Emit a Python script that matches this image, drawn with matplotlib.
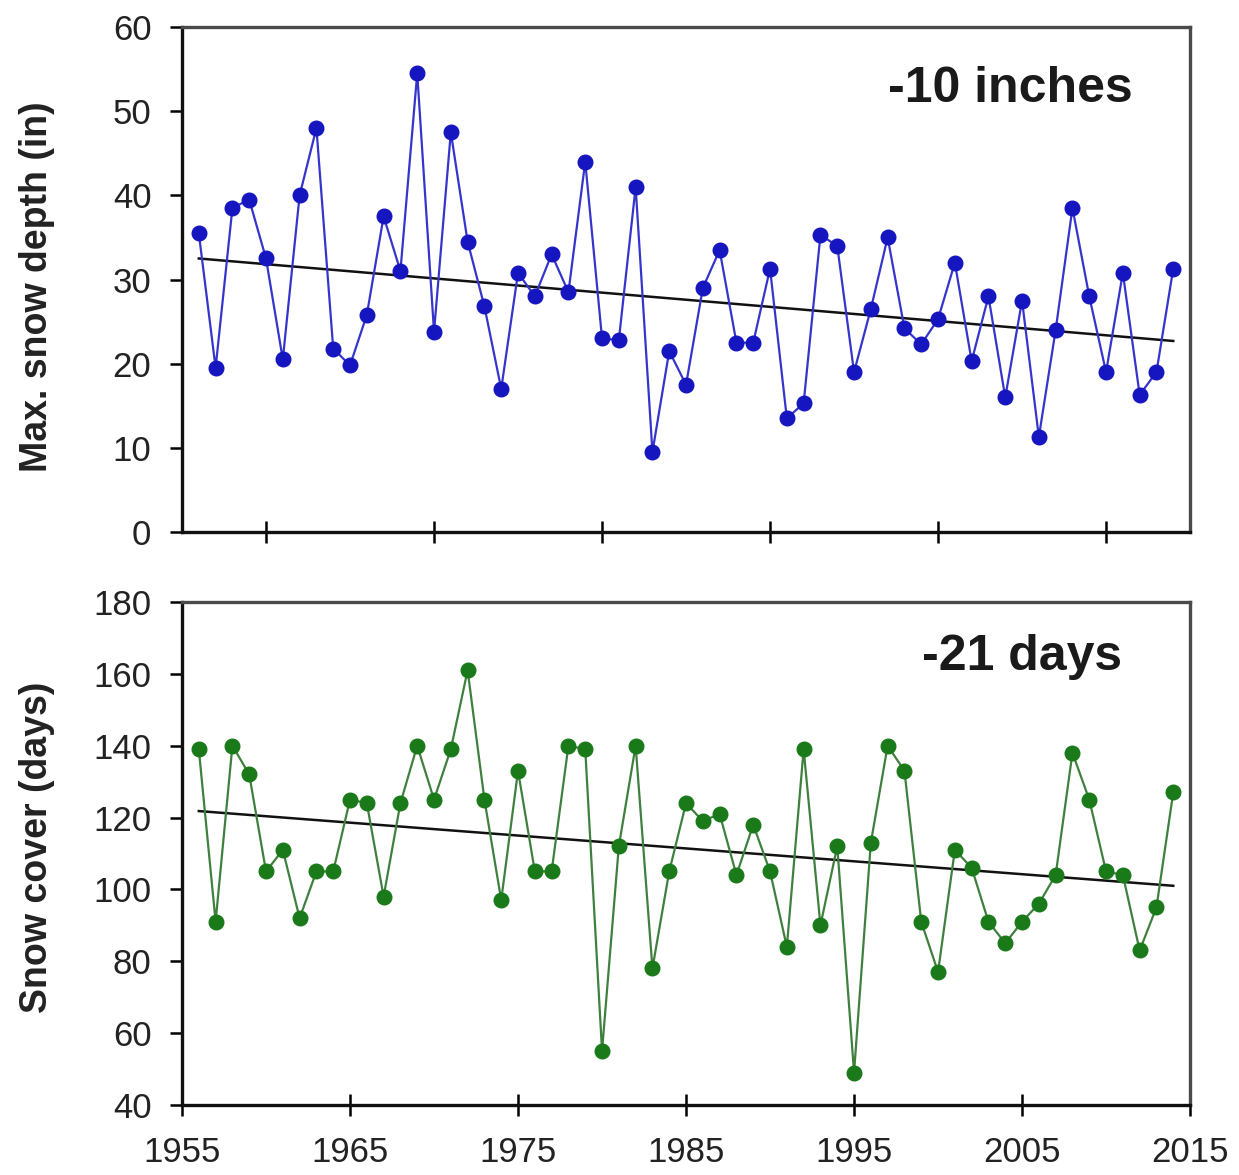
import numpy as np
import matplotlib
matplotlib.use("Agg")
import matplotlib.pyplot as plt

plt.rcParams['font.family'] = ['Liberation Sans', 'DejaVu Sans']

years = list(range(1956, 2015))
snow_depth = [35.5, 19.5, 38.5, 39.5, 32.5, 20.5, 40.0, 48.0, 21.8, 19.8,
              25.8, 37.5, 31.0, 54.5, 23.8, 47.5, 34.5, 26.8, 17.0, 30.8,
              28.0, 33.0, 28.5, 44.0, 23.0, 22.8, 41.0, 9.5, 21.5, 17.5,
              29.0, 33.5, 22.5, 22.5, 31.3, 13.5, 15.3, 35.3, 34.0, 19.0,
              26.5, 35.0, 24.2, 22.3, 25.3, 32.0, 20.3, 28.0, 16.0, 27.5,
              11.3, 24.0, 38.5, 28.0, 19.0, 30.8, 16.3, 19.0, 31.3]
snow_cover = [139, 91, 140, 132, 105, 111, 92, 105, 105, 125,
              124, 98, 124, 140, 125, 139, 161, 125, 97, 133,
              105, 105, 140, 139, 55, 112, 140, 78, 105, 124,
              119, 121, 104, 118, 105, 84, 139, 90, 112, 49,
              113, 140, 133, 91, 77, 111, 106, 91, 85, 91,
              96, 104, 138, 125, 105, 104, 83, 95, 127]

# trend lines (start/end values at 1956 and 2014)
trend_years = [1956, 2014]
depth_trend = [32.5, 22.7]
cover_trend = [121.8, 101.0]

top_xticks = [1960, 1970, 1980, 1990, 2000, 2010]
bottom_xticks = [1955, 1965, 1975, 1985, 1995, 2005, 2015]
top_yticks = [0, 10, 20, 30, 40, 50, 60]
bottom_yticks = [40, 60, 80, 100, 120, 140, 160, 180]
top_label = "Max. snow depth (in)"
bottom_label = "Snow cover (days)"
top_note = "-10 inches"
bottom_note = "-21 days"

fig = plt.figure(figsize=(12.39, 11.75), dpi=100)
ax1 = fig.add_axes([0.1469, 0.5472, 0.8136, 0.4298])
ax2 = fig.add_axes([0.1469, 0.0596, 0.8136, 0.4281])

x = np.array(years)

def style(ax):
    for s in ['left', 'bottom']:
        ax.spines[s].set_linewidth(2.4)
        ax.spines[s].set_color('#111111')
    for s in ['top', 'right']:
        ax.spines[s].set_linewidth(2.4)
        ax.spines[s].set_color('#4a4a4a')
    ax.tick_params(axis='y', direction='out', length=9, width=1.8, labelsize=25, pad=13,
                   labelcolor='#222222')
    ax.tick_params(axis='x', direction='inout', length=16, width=1.8, labelsize=25, pad=14,
                   labelcolor='#222222')

# top
ax1.plot(x, snow_depth, color='#3535cc', lw=1.6, marker='o', ms=10.5,
         mfc='#1616c0', mec='#1616c0', zorder=3)
ax1.plot(trend_years, depth_trend, color='#111111', lw=1.8, zorder=2)
ax1.set_xlim(1955, 2015)
ax1.set_ylim(0, 60)
ax1.set_xticks(top_xticks)
ax1.set_xticklabels([])
ax1.set_yticks(top_yticks)
ax1.set_ylabel(top_label, fontsize=27, fontweight='bold', va='center', color='#222222')
ax1.yaxis.set_label_coords(-0.144, 0.485)
ax1.text(2004.3, 52.6, top_note, fontsize=36, fontweight='bold', ha='center', va='center',
         color='#1a1a1a')
style(ax1)

# bottom
ax2.plot(x, snow_cover, color='#3f803f', lw=1.6, marker='o', ms=10.5,
         mfc='#1a7a1a', mec='#1a7a1a', zorder=3)
ax2.plot(trend_years, cover_trend, color='#111111', lw=1.8, zorder=2)
ax2.set_xlim(1955, 2015)
ax2.set_ylim(40, 180)
ax2.set_xticks(bottom_xticks)
ax2.set_yticks(bottom_yticks)
ax2.set_ylabel(bottom_label, fontsize=27, fontweight='bold', va='center', color='#222222')
ax2.yaxis.set_label_coords(-0.144, 0.513)
ax2.text(2005.0, 164.7, bottom_note, fontsize=36, fontweight='bold', ha='center', va='center',
         color='#1a1a1a')
style(ax2)

fig.savefig('out.png', dpi=100)
